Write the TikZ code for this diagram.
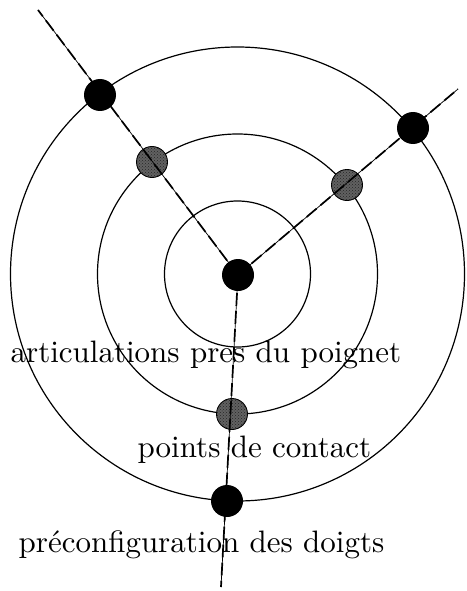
\documentclass[tikz,border=0pt]{standalone}
\usetikzlibrary{patterns}
\begin{document}
\begin{tikzpicture}[x=1pt,y=-1pt,
  ring/.style={draw=black,line width=1.2pt},
  raythin/.style={line width=0.7pt},
  raydash/.style={line width=1.7pt,dash pattern=on 13pt off 5pt},
  joint/.style={circle,fill=black,inner sep=0pt,minimum size=32pt},
  contact/.style={circle,draw=black,line width=0.9pt,fill=black!62,
    postaction={pattern=crosshatch dots,pattern color=black!85},inner sep=0pt,minimum size=31pt},
  lbl/.style={anchor=base west,inner sep=0pt,scale=3.1}]
\useasboundingbox (0,0) rectangle (466,591);
\coordinate (O) at (237.5,274);
\draw[ring] (O) circle[radius=73];
\draw[ring] (O) circle[radius=140];
\draw[ring] (O) circle[radius=227];
% contact points (under the rays)
\node[contact] (P1) at (152,162) {};
\node[contact] (P2) at (347,185) {};
\node[contact] (P3) at (232,414) {};
% centre and ray ends
\coordinate (C) at (238,275);
\coordinate (E1) at (38,10);
\coordinate (E2) at (458,89);
\coordinate (E3) at (221,587);
\foreach \e in {E1,E2,E3}{
  \draw[raythin] (C) -- (\e);
  \draw[raydash] (C) -- (\e);
}
% joints
\node[joint] (W) at (C) {};
\node[joint] (J1) at (100,95) {};
\node[joint] (J2) at (413,128) {};
\node[joint] (J3) at (227,501) {};
% labels
\node[lbl] (L1) at (10,362) {articulations pres du poignet};
\node[lbl] (L2) at (137,457) {points de contact};
\node[lbl] (L3) at (18,552) {préconfiguration des doigts};
\end{tikzpicture}
\end{document}
